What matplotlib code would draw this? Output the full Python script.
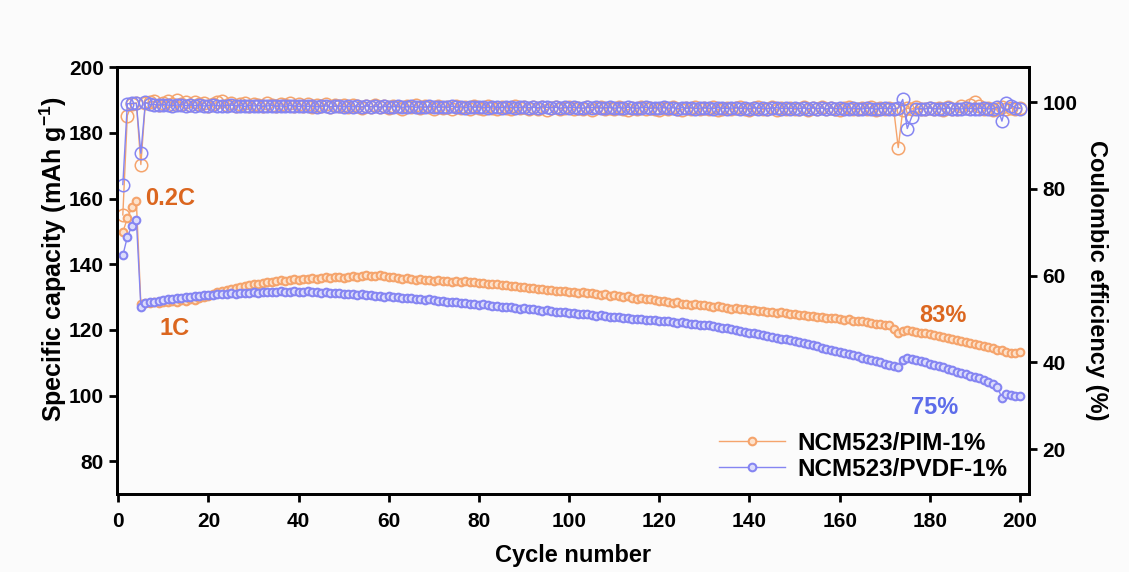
import matplotlib.pyplot as plt

plt.rcParams['font.family'] = ['Liberation Sans', 'DejaVu Sans']
plt.rcParams['font.weight'] = 'bold'
plt.rcParams['mathtext.fontset'] = 'custom'
plt.rcParams['mathtext.bf'] = 'Liberation Sans:bold'
plt.rcParams['mathtext.rm'] = 'Liberation Sans:bold'

# Cycle numbers
cycles = list(range(1, 201))

# Specific capacity (mAh/g), NCM523/PIM-1%
cap_pim = [
    149.8, 154.0, 157.3, 159.2, 128.0, 128.3, 128.1, 128.5, 128.2, 128.6,
    128.4, 128.8, 128.6, 129.0, 128.9, 129.3, 129.2, 129.7, 129.9, 130.4,
    130.9, 131.4, 131.8, 132.3, 132.6, 132.9, 133.1, 133.5, 133.7, 133.9,
    134.1, 134.4, 134.6, 134.5, 134.9, 135.1, 135.0, 135.3, 135.5, 135.2,
    135.6, 135.4, 135.8, 135.5, 135.9, 136.1, 135.7, 136.0, 136.2, 135.9,
    136.1, 136.3, 136.0, 136.4, 136.6, 136.3, 136.5, 136.7, 136.4, 136.2,
    136.0, 135.7, 135.5, 135.8, 135.4, 135.2, 135.5, 135.1, 135.3, 135.0,
    135.2, 134.8, 135.0, 134.7, 134.9, 134.6, 134.8, 134.5, 134.6, 134.2,
    134.4, 134.0, 133.9, 134.1, 133.6, 133.8, 133.4, 133.5, 133.1, 133.2,
    132.8, 132.9, 132.5, 132.6, 132.2, 132.3, 131.9, 131.7, 131.8, 131.4,
    131.5, 131.2, 131.4, 131.1, 131.3, 130.9, 130.7, 130.9, 130.4, 130.6,
    130.2, 130.0, 130.3, 129.8, 129.5, 129.7, 129.3, 129.4, 129.0, 128.7,
    128.9, 128.5, 128.2, 128.4, 128.0, 127.9, 127.7, 127.8, 127.5, 127.6,
    127.3, 127.1, 127.2, 126.9, 126.7, 126.5, 126.6, 126.3, 126.4, 126.0,
    126.1, 125.8, 125.9, 125.5, 125.6, 125.2, 125.3, 125.0, 124.8, 124.9,
    124.5, 124.6, 124.2, 124.3, 123.9, 124.0, 123.7, 123.5, 123.6, 123.3,
    123.1, 123.2, 122.8, 122.6, 122.7, 122.3, 122.1, 121.8, 121.9, 121.5,
    121.6, 120.2, 119.2, 119.6, 119.9, 119.7, 119.5, 119.2, 118.9, 118.7,
    118.5, 118.1, 117.9, 117.6, 117.2, 117.0, 116.7, 116.4, 116.0, 115.8,
    115.5, 115.1, 114.8, 114.4, 114.0, 113.8, 113.4, 113.1, 113.0, 113.2,
]

# Specific capacity (mAh/g), NCM523/PVDF-1%
cap_pvdf = [
    142.7, 148.3, 151.6, 153.6, 127.0, 128.1, 128.4, 128.6, 128.9, 129.1,
    129.3, 129.5, 129.6, 129.8, 129.9, 130.1, 130.2, 130.3, 130.5, 130.6,
    130.7, 130.8, 130.9, 131.0, 131.1, 131.0, 131.2, 131.3, 131.2, 131.4,
    131.3, 131.5, 131.4, 131.6, 131.5, 131.7, 131.6, 131.5, 131.7, 131.6,
    131.5, 131.7, 131.4, 131.5, 131.3, 131.4, 131.2, 131.3, 131.1, 131.0,
    130.9, 131.0, 130.7, 130.8, 130.5, 130.6, 130.3, 130.4, 130.1, 130.2,
    129.9, 130.0, 129.8, 129.6, 129.7, 129.4, 129.5, 129.2, 129.3, 129.0,
    128.8, 128.9, 128.6, 128.4, 128.5, 128.2, 128.3, 127.9, 128.0, 127.7,
    127.8, 127.5, 127.3, 127.4, 127.1, 126.9, 127.0, 126.7, 126.5, 126.6,
    126.3, 126.4, 126.1, 125.9, 126.0, 125.7, 125.5, 125.6, 125.3, 125.1,
    125.2, 124.9, 124.7, 124.8, 124.5, 124.3, 124.4, 124.1, 123.9, 124.0,
    123.8, 123.6, 123.7, 123.4, 123.2, 123.3, 123.0, 122.9, 123.0, 122.8,
    122.6, 122.7, 122.4, 122.2, 122.3, 122.0, 121.8, 121.9, 121.6, 121.4,
    121.5, 121.2, 121.0, 120.7, 120.5, 120.2, 120.0, 119.7, 119.4, 119.1,
    118.9, 118.6, 118.3, 118.1, 117.8, 117.6, 117.3, 117.1, 116.9, 116.6,
    116.3, 116.0, 115.6, 115.3, 115.0, 114.6, 114.3, 113.9, 113.6, 113.2,
    112.9, 112.5, 112.2, 111.9, 111.5, 111.2, 110.8, 110.5, 110.1, 109.7,
    109.4, 109.0, 108.6, 110.9, 111.4, 111.1, 110.8, 110.4, 110.1, 109.7,
    109.3, 108.9, 108.6, 108.1, 107.7, 107.3, 106.9, 106.5, 106.0, 105.6,
    105.2, 104.7, 104.2, 103.5, 102.5, 99.3, 100.4, 100.2, 100.0, 99.8,
]

# Coulombic efficiency (%), NCM523/PIM-1%
ce_pim = [
    74.0, 96.9, 99.6, 99.8, 85.6, 99.8, 99.9, 100.2, 99.4, 99.8,
    100.3, 99.5, 100.5, 99.6, 99.9, 99.3, 100.1, 99.5, 99.8, 99.2,
    99.6, 99.9, 100.2, 99.4, 99.7, 99.1, 99.5, 99.8, 99.2, 99.6,
    99.3, 99.0, 99.7, 99.4, 99.1, 99.6, 99.3, 99.8, 99.0, 99.5,
    99.2, 99.6, 98.9, 99.4, 99.1, 99.5, 98.8, 99.3, 99.0, 99.4,
    98.9, 99.3, 99.0, 98.7, 99.2, 98.9, 99.4, 98.8, 99.1, 98.6,
    99.2, 98.9, 98.5, 99.1, 98.8, 99.3, 98.6, 99.0, 98.8, 98.5,
    99.1, 98.7, 98.9, 98.4, 99.0, 98.6, 98.9, 98.3, 99.1, 98.7,
    98.5, 99.0, 98.6, 98.3, 98.9, 98.7, 98.4, 99.0, 98.6, 98.8,
    98.3, 98.9, 98.5, 98.8, 98.2, 98.7, 98.9, 98.4, 98.6, 98.9,
    98.3, 98.7, 98.5, 98.9, 98.2, 98.6, 98.8, 98.4, 98.7, 98.3,
    98.8, 98.5, 98.2, 98.7, 98.4, 98.9, 98.3, 98.6, 98.5, 98.1,
    98.7, 98.3, 98.8, 98.4, 98.2, 98.6, 98.5, 98.9, 98.3, 98.6,
    98.4, 98.8, 98.2, 98.5, 98.7, 98.3, 98.6, 98.9, 98.4, 98.2,
    98.6, 98.8, 98.3, 98.5, 98.9, 98.2, 98.6, 98.4, 98.7, 98.3,
    98.5, 98.8, 98.2, 98.6, 98.4, 98.9, 98.3, 98.7, 98.5, 98.2,
    98.6, 98.8, 98.4, 98.3, 98.7, 98.5, 98.9, 98.2, 98.6, 98.4,
    98.7, 98.3, 89.5, 98.1, 98.6, 98.4, 98.8, 98.3, 98.5, 98.7,
    98.4, 98.6, 98.2, 98.8, 98.5, 98.3, 99.0, 98.6, 99.3, 99.9,
    99.2, 98.4, 98.7, 98.2, 98.5, 98.8, 98.3, 98.6, 98.4, 98.7,
]

# Coulombic efficiency (%), NCM523/PVDF-1%
ce_pvdf = [
    81.0, 99.6, 99.7, 99.7, 88.2, 99.9, 99.5, 99.4, 99.3, 99.4,
    99.3, 99.2, 99.3, 99.4, 99.2, 99.3, 99.2, 99.3, 99.1, 99.2,
    99.3, 99.2, 99.1, 99.2, 99.3, 99.1, 99.2, 99.0, 99.2, 99.1,
    99.2, 99.0, 99.1, 99.2, 99.0, 99.1, 99.0, 99.2, 99.1, 99.0,
    99.1, 99.0, 99.1, 98.9, 99.0, 99.1, 98.9, 99.0, 99.1, 98.9,
    99.0, 98.9, 99.0, 98.9, 99.1, 98.9, 99.0, 98.8, 99.0, 98.9,
    98.9, 99.0, 98.8, 98.9, 99.0, 98.8, 98.9, 98.8, 99.0, 98.9,
    98.8, 98.9, 98.8, 99.0, 98.8, 98.9, 98.7, 98.9, 98.8, 98.9,
    98.8, 98.7, 98.9, 98.8, 98.7, 98.9, 98.8, 98.7, 98.8, 98.9,
    98.7, 98.8, 98.7, 98.9, 98.8, 98.7, 98.8, 98.6, 98.8, 98.7,
    98.8, 98.7, 98.6, 98.8, 98.7, 98.8, 98.6, 98.7, 98.8, 98.6,
    98.7, 98.6, 98.8, 98.7, 98.6, 98.7, 98.8, 98.6, 98.7, 98.6,
    98.8, 98.6, 98.7, 98.5, 98.7, 98.6, 98.7, 98.5, 98.6, 98.7,
    98.6, 98.5, 98.7, 98.6, 98.5, 98.6, 98.7, 98.5, 98.6, 98.5,
    98.7, 98.5, 98.6, 98.5, 98.6, 98.7, 98.5, 98.6, 98.5, 98.6,
    98.5, 98.6, 98.5, 98.7, 98.5, 98.6, 98.4, 98.6, 98.5, 98.6,
    98.5, 98.4, 98.6, 98.5, 98.4, 98.6, 98.5, 98.4, 98.5, 98.6,
    98.5, 98.4, 98.6, 100.6, 93.9, 96.6, 98.4, 98.5, 98.4, 98.6,
    98.5, 98.4, 98.5, 98.6, 98.4, 98.5, 98.4, 98.6, 98.5, 98.4,
    98.5, 98.6, 98.4, 98.5, 98.9, 95.6, 99.7, 99.2, 98.7, 98.5,
]

labels = ['NCM523/PIM-1%', 'NCM523/PVDF-1%']

# Colours
orange = '#F5A46C'
orange_face = '#FDE2CC'
blue = '#8585F2'
blue_face = '#DCDCFB'
orange_text = '#DB661F'
blue_text = '#5D6CEA'

fig = plt.figure(figsize=(11.29, 5.72), dpi=100)
fig.patch.set_facecolor('#FBFBFB')
ax = fig.add_axes([0.1036, 0.1364, 0.8078, 0.7459])
ax.set_facecolor('#FBFBFB')
ax2 = ax.twinx()

# Coulombic efficiency (open circles, right axis)
ax2.plot(cycles, ce_pim, color=orange, lw=1, marker='o', ms=9,
         mfc='none', mec=orange, mew=1.1)
ax2.plot(cycles, ce_pvdf, color=blue, lw=1, marker='o', ms=9,
         mfc='none', mec=blue, mew=1.1)

# Capacity (small filled circles, left axis)
ax.plot(cycles, cap_pim, color=orange, lw=1, marker='o', ms=5.5,
        mfc=orange_face, mec=orange, mew=1.5, label=labels[0])
ax.plot(cycles, cap_pvdf, color=blue, lw=1, marker='o', ms=5.5,
        mfc=blue_face, mec=blue, mew=1.5, label=labels[1])

# Capacity on top of CE axis
ax.set_zorder(ax2.get_zorder() + 1)
ax.patch.set_visible(False)

ax.set_xlim(-0.3, 202)
ax.set_ylim(70, 200)
ax2.set_ylim(9.7, 108)

ax.set_xticks(range(0, 201, 20))
ax.set_yticks(range(80, 201, 20))
ax2.set_yticks(range(20, 101, 20))

ax.set_xlabel('Cycle number', fontsize=17, fontweight='bold', labelpad=9)
ax.set_ylabel(r'Specific capacity (mAh g$^{\mathbf{-1}}$)', fontsize=18,
              fontweight='bold')
ax.yaxis.set_label_coords(-0.053, 0.55)
ax2.set_ylabel('Coulombic efficiency (%)', fontsize=17, fontweight='bold',
               rotation=270, labelpad=22)

for a in (ax, ax2):
    a.tick_params(axis='both', which='major', labelsize=15, width=2,
                  length=6, direction='out')
    for s in a.spines.values():
        s.set_linewidth(2)
ax.tick_params(top=False, right=False)
ax.tick_params(axis='x', pad=7)

# Annotations
ax.text(11.5, 160, '0.2C', color=orange_text, fontsize=17,
        fontweight='bold', ha='center', va='center')
ax.text(12.5, 120.5, '1C', color=orange_text, fontsize=17,
        fontweight='bold', ha='center', va='center')
ax.text(183, 124.5, '83%', color=orange_text, fontsize=17,
        fontweight='bold', ha='center', va='center')
ax.text(181, 96.5, '75%', color=blue_text, fontsize=17,
        fontweight='bold', ha='center', va='center')

ax.legend(loc='lower right', bbox_to_anchor=(1.0, -0.02), frameon=False,
          handlelength=2.7, handletextpad=0.5, labelspacing=0.12,
          prop={'weight': 'bold', 'size': 17.5})

fig.savefig('out.png', dpi=100, facecolor=fig.get_facecolor())
